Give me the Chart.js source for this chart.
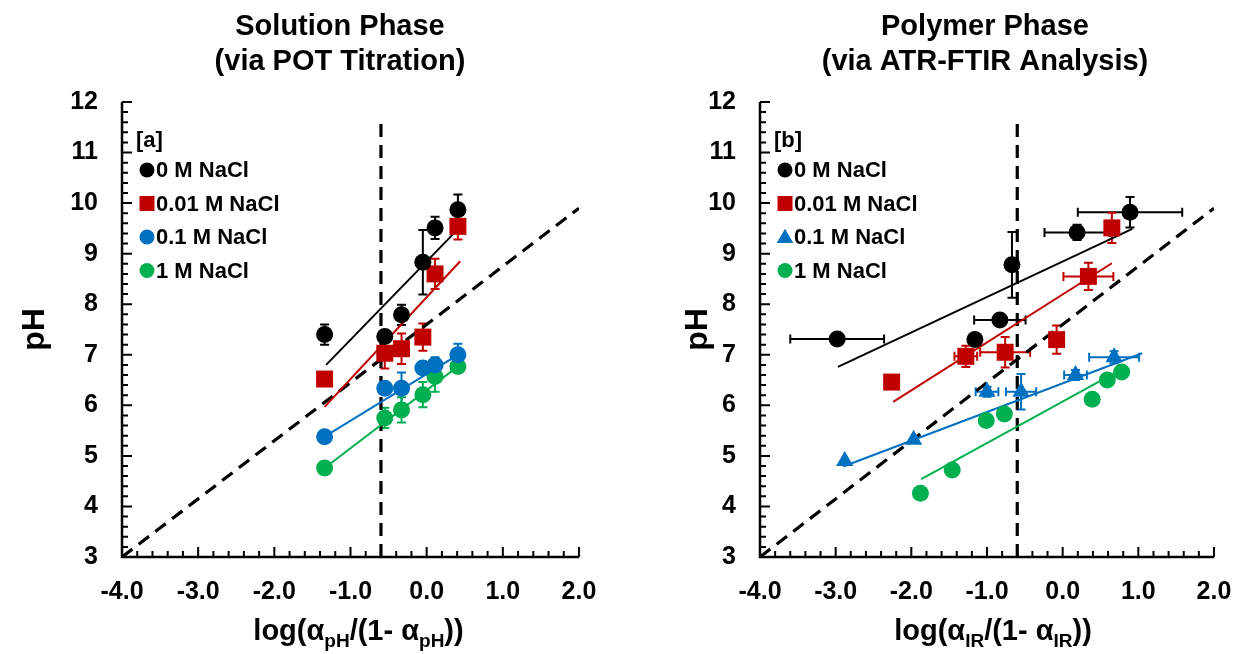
<!DOCTYPE html>
<html>
<head>
<meta charset="utf-8">
<script src="https://cdn.jsdelivr.net/npm/chart.js@4.4.1/dist/chart.umd.min.js"></script>
<style>
html, body { margin: 0; padding: 0; background: #fff; }
#wrap { position: relative; width: 1237px; height: 654px; overflow: hidden; }
#chartA { position: absolute; left: 0; top: 0; }
#chartB { position: absolute; left: 640px; top: 0; }
</style>
</head>
<body>
<div id="wrap">
  <canvas id="chartA" width="640" height="654"></canvas>
  <canvas id="chartB" width="597" height="654"></canvas>
</div>
<script>
// ---- Panel [a]: solution phase (POT titration) ----
const aX = [-1.34, -0.55, -0.33, -0.05, 0.11, 0.41];
const aBlackY = [7.40, 7.36, 7.79, 8.83, 9.51, 9.87];
const aBlackYErr = [0.2, 0, 0.2, 0.64, 0.22, 0.3];
const aRedY = [6.52, 7.03, 7.12, 7.35, 8.60, 9.54];
const aRedYErr = [0, 0.3, 0.3, 0.27, 0.3, 0.26];
const aBlueY = [5.38, 6.34, 6.34, 6.74, 6.80, 7.00];
const aBlueYErr = [0, 0.1, 0.31, 0.1, 0.15, 0.22];
const aGreenY = [4.76, 5.75, 5.91, 6.21, 6.57, 6.77];
const aGreenYErr = [0.12, 0.2, 0.25, 0.25, 0.3, 0];

const aFitBlackX = [-1.32, 0.44], aFitBlackY = [6.80, 9.53];
const aFitRedX = [-1.34, 0.44], aFitRedY = [5.97, 8.85];
const aFitBlueX = [-1.34, 0.41], aFitBlueY = [5.38, 7.00];
const aFitGreenX = [-1.34, 0.41], aFitGreenY = [4.76, 6.77];

// ---- Panel [b]: polymer phase (ATR-FTIR) ----
const bBlackX = [-2.98, -1.16, -0.83, -0.67, 0.19, 0.89];
const bBlackY = [7.31, 7.30, 7.69, 8.78, 9.42, 9.82];
const bBlackXErr = [0.62, 0, 0.34, 0, 0.43, 0.69];
const bBlackYErr = [0, 0, 0.1, 0.65, 0.15, 0.3];
const bRedX = [-2.26, -1.28, -0.76, -0.08, 0.34, 0.65];
const bRedY = [6.46, 6.97, 7.05, 7.30, 8.55, 9.51];
const bRedXErr = [0, 0.15, 0.33, 0, 0.33, 0];
const bRedYErr = [0, 0.21, 0.3, 0.28, 0.27, 0.3];
const bBlueX = [-2.88, -1.97, -1.00, -0.55, 0.17, 0.68];
const bBlueY = [4.90, 5.32, 6.27, 6.27, 6.60, 6.95];
const bBlueXErr = [0, 0, 0.15, 0.2, 0.15, 0.33];
const bBlueYErr = [0, 0, 0.1, 0.35, 0.1, 0.12];
const bGreenX = [-1.88, -1.46, -1.01, -0.77, 0.39, 0.59, 0.78];
const bGreenY = [4.26, 4.72, 5.70, 5.83, 6.12, 6.50, 6.66];

const bFitBlackX = [-2.97, 0.92], bFitBlackY = [6.76, 9.49];
const bFitRedX = [-2.24, 0.65], bFitRedY = [6.07, 8.81];
const bFitBlueX = [-2.90, 1.05], bFitBlueY = [4.79, 7.03];
const bFitGreenX = [-1.87, 0.80], bFitGreenY = [4.54, 6.73];

// reference lines (both panels)
const refDiagX = [-4, 2], refDiagY = [3, 9.9];
const refVertX = [-0.6, -0.6], refVertY = [3, 11.6];

const seriesLabels = ['0 M NaCl', '0.01 M NaCl', '0.1 M NaCl', '1 M NaCl'];

const FONT = "'Liberation Sans', Arial, sans-serif";
const BLACK = '#000000', RED = '#C00000', BLUE = '#0070C0', GREEN = '#00B050';

function pts(xs, ys) {
    return xs.map((x, i) => ({ x: x, y: ys[i] }));
}

function markerPath(ctx, style, x, y, size) {
    ctx.beginPath();
    if (style === 'rect') {
        ctx.rect(x - size, y - size, size * 2, size * 2);
    } else if (style === 'triangle') {
        ctx.moveTo(x, y - size * 1.1);
        ctx.lineTo(x + size * 1.1, y + size * 0.8);
        ctx.lineTo(x - size * 1.1, y + size * 0.8);
        ctx.closePath();
    } else {
        ctx.arc(x, y, size, 0, Math.PI * 2);
    }
}

// titles, error bars, inward ticks, in-plot legend and subscripted x title
const panelDecor = {
    id: 'panelDecor',
    beforeDatasetsDraw(chart, args, o) {
        const { ctx, scales: { x, y } } = chart;
        ctx.save();
        ctx.lineWidth = 2;
        const cap = 4.5;
        o.series.forEach(s => {
            ctx.strokeStyle = s.color;
            ctx.beginPath();
            s.x.forEach((xv, i) => {
                const yv = s.y[i];
                const px = x.getPixelForValue(xv), py = y.getPixelForValue(yv);
                const ye = s.yErr ? s.yErr[i] : 0;
                const xe = s.xErr ? s.xErr[i] : 0;
                if (ye) {
                    const t = y.getPixelForValue(yv + ye), b = y.getPixelForValue(yv - ye);
                    ctx.moveTo(px, t); ctx.lineTo(px, b);
                    ctx.moveTo(px - cap, t); ctx.lineTo(px + cap, t);
                    ctx.moveTo(px - cap, b); ctx.lineTo(px + cap, b);
                }
                if (xe) {
                    const l = x.getPixelForValue(xv - xe), r = x.getPixelForValue(xv + xe);
                    ctx.moveTo(l, py); ctx.lineTo(r, py);
                    ctx.moveTo(l, py - cap); ctx.lineTo(l, py + cap);
                    ctx.moveTo(r, py - cap); ctx.lineTo(r, py + cap);
                }
            });
            ctx.stroke();
        });
        ctx.restore();
    },
    afterDraw(chart, args, o) {
        const { ctx, chartArea: a, scales: { x, y } } = chart;
        ctx.save();

        // chart title (two lines)
        ctx.fillStyle = '#000';
        ctx.textAlign = 'center';
        ctx.textBaseline = 'middle';
        ctx.font = 'bold 29px ' + FONT;
        o.title.forEach((t, i) => ctx.fillText(t, o.titleX, 27 + i * 35));

        // axes
        ctx.strokeStyle = '#000';
        ctx.lineWidth = 2.5;
        ctx.beginPath();
        ctx.moveTo(a.left, a.top);
        ctx.lineTo(a.left, a.bottom);
        ctx.lineTo(a.right, a.bottom);
        ctx.stroke();

        // inward ticks, minor every 0.2
        ctx.lineWidth = 2;
        ctx.beginPath();
        for (let k = 0; k <= 45; k++) {
            const py = y.getPixelForValue(y.min + k * 0.2);
            const len = k % 5 === 0 ? 10 : 6;
            ctx.moveTo(a.left, py); ctx.lineTo(a.left + len, py);
        }
        for (let k = 0; k <= 30; k++) {
            const px = x.getPixelForValue(x.min + k * 0.2);
            const len = k % 5 === 0 ? 10 : 6;
            ctx.moveTo(px, a.bottom); ctx.lineTo(px, a.bottom - len);
        }
        ctx.stroke();

        // legend
        ctx.textAlign = 'left';
        ctx.font = 'bold 22px ' + FONT;
        const lx = a.left + 25, ly = a.top + 68;
        ctx.fillText(o.tag, a.left + 14, ly - 29);
        o.series.forEach((s, i) => {
            const yy = ly + i * 33.5;
            ctx.fillStyle = s.color;
            markerPath(ctx, s.style, lx, yy, 7.5);
            ctx.fill();
            ctx.fillStyle = '#000';
            ctx.fillText(s.label, lx + 9, yy + 1);
        });

        // x axis title with subscripts
        const big = 'bold 29px ' + FONT, small = 'bold 19px ' + FONT;
        let total = 0;
        o.xTitle.forEach(p => {
            ctx.font = p[1] ? small : big;
            total += ctx.measureText(p[0]).width;
        });
        let cx = (a.left + a.right) / 2 + o.xTitleShift - total / 2;
        const base = 640;
        ctx.textBaseline = 'alphabetic';
        o.xTitle.forEach(p => {
            ctx.font = p[1] ? small : big;
            ctx.fillText(p[0], cx, p[1] ? base + 7 : base);
            cx += ctx.measureText(p[0]).width;
        });
        ctx.restore();
    }
};

function makePanel(canvasId, cfg) {
    const styles = ['circle', 'rect', cfg.blueStyle, 'circle'];
    const colors = [BLACK, RED, BLUE, GREEN];
    const radii = { circle: 8.5, rect: 12, triangle: 10 };

    const datasets = [];
    cfg.series.forEach((s, i) => {
        datasets.push({
            label: seriesLabels[i],
            data: pts(s.x, s.y),
            pointStyle: styles[i],
            pointRadius: radii[styles[i]],
            pointBackgroundColor: colors[i],
            pointBorderWidth: 0,
            showLine: false,
            order: 1
        });
    });
    cfg.fits.forEach((f, i) => {
        datasets.push({
            label: seriesLabels[i] + ' fit',
            data: pts(f[0], f[1]),
            showLine: true,
            borderColor: colors[i],
            borderWidth: 2,
            pointRadius: 0,
            order: 2
        });
    });
    [[refDiagX, refDiagY], [refVertX, refVertY]].forEach(r => {
        datasets.push({
            label: 'reference',
            data: pts(r[0], r[1]),
            showLine: true,
            borderColor: BLACK,
            borderWidth: 3.2,
            borderDash: [13, 8],
            pointRadius: 0,
            order: 3
        });
    });

    const decorSeries = cfg.series.map((s, i) => ({
        x: s.x, y: s.y, xErr: s.xErr, yErr: s.yErr,
        color: colors[i], style: styles[i], label: seriesLabels[i]
    }));

    const tickFont = { family: FONT, size: 25, weight: 'bold' };

    return new Chart(document.getElementById(canvasId), {
        type: 'scatter',
        data: { datasets: datasets },
        options: {
            responsive: false,
            animation: false,
            events: [],
            layout: { padding: { top: 102, right: cfg.padRight, bottom: 0, left: 0 } },
            plugins: {
                legend: { display: false },
                tooltip: { enabled: false },
                title: { display: false },
                panelDecor: {
                    series: decorSeries, tag: cfg.tag, xTitle: cfg.xTitle,
                    title: cfg.title, titleX: cfg.titleX, xTitleShift: cfg.xTitleShift
                }
            },
            scales: {
                x: {
                    type: 'linear',
                    min: -4,
                    max: 2,
                    grid: { display: false, drawTicks: false },
                    border: { display: false },
                    ticks: {
                        stepSize: 1,
                        padding: 20,
                        color: '#000',
                        font: tickFont,
                        maxRotation: 0,
                        callback: v => v.toFixed(1)
                    },
                    afterFit: s => { s.height = 97; s.paddingLeft = 0; s.paddingRight = 0; }
                },
                y: {
                    type: 'linear',
                    min: 3,
                    max: 12,
                    grid: { display: false, drawTicks: false },
                    border: { display: false },
                    ticks: { stepSize: 1, padding: 24, color: '#000', font: tickFont },
                    title: {
                        display: true,
                        text: 'pH',
                        color: '#000',
                        font: { family: FONT, size: 32, weight: 'bold', lineHeight: 1.2 },
                        padding: { top: cfg.yTitlePad, bottom: 0 }
                    },
                    afterFit: s => { s.width = cfg.yWidth; s.paddingTop = 0; s.paddingBottom = 0; }
                }
            }
        },
        plugins: [panelDecor]
    });
}

makePanel('chartA', {
    title: ['Solution Phase', '(via POT Titration)'],
    titleX: 340,
    xTitleShift: 8,
    tag: '[a]',
    blueStyle: 'circle',
    yWidth: 122,
    padRight: 61,
    yTitlePad: 16,
    xTitle: [['log(\u03B1', false], ['pH', true], ['/(1- \u03B1', false], ['pH', true], ['))', false]],
    series: [
        { x: aX, y: aBlackY, yErr: aBlackYErr },
        { x: aX, y: aRedY, yErr: aRedYErr },
        { x: aX, y: aBlueY, yErr: aBlueYErr },
        { x: aX, y: aGreenY, yErr: aGreenYErr }
    ],
    fits: [[aFitBlackX, aFitBlackY], [aFitRedX, aFitRedY], [aFitBlueX, aFitBlueY], [aFitGreenX, aFitGreenY]]
});

makePanel('chartB', {
    title: ['Polymer Phase', '(via ATR-FTIR Analysis)'],
    titleX: 345,
    xTitleShift: 6,
    tag: '[b]',
    blueStyle: 'triangle',
    yWidth: 120,
    padRight: 23,
    yTitlePad: 39,
    xTitle: [['log(\u03B1', false], ['IR', true], ['/(1- \u03B1', false], ['IR', true], ['))', false]],
    series: [
        { x: bBlackX, y: bBlackY, xErr: bBlackXErr, yErr: bBlackYErr },
        { x: bRedX, y: bRedY, xErr: bRedXErr, yErr: bRedYErr },
        { x: bBlueX, y: bBlueY, xErr: bBlueXErr, yErr: bBlueYErr },
        { x: bGreenX, y: bGreenY }
    ],
    fits: [[bFitBlackX, bFitBlackY], [bFitRedX, bFitRedY], [bFitBlueX, bFitBlueY], [bFitGreenX, bFitGreenY]]
});
</script>
</body>
</html>
